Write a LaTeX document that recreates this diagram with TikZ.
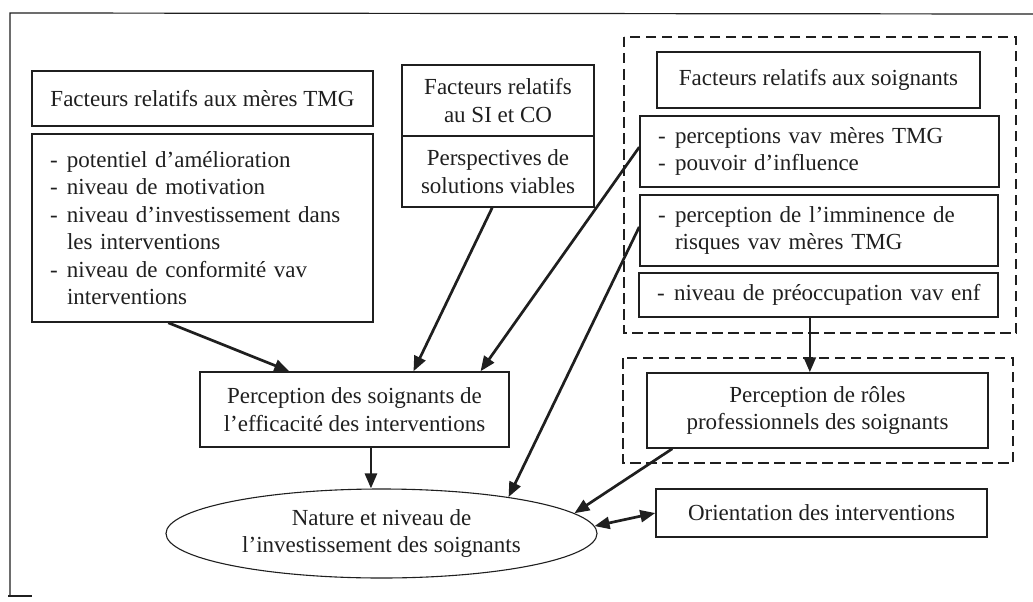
\documentclass[tikz,border=0pt]{standalone}
\usepackage{fontspec}
\setmainfont{Liberation Serif}
\usetikzlibrary{shapes.geometric,arrows.meta,calc}
\definecolor{ink}{gray}{0.12}
\begin{document}
\begin{tikzpicture}[x=1pt,y=-1pt,
  every node/.style={font=\fontsize{23}{27.5}\selectfont, text=ink},
  box/.style={draw=ink, line width=1.5pt, inner sep=0pt, align=center},
  listbox/.style={draw=ink, line width=1.5pt, inner xsep=18pt, inner ysep=0pt, align=left},
  tip/.tip={Triangle[length=15pt,width=12pt]},
  arr/.style={draw=ink, line width=2.7pt, -tip},
  biarr/.style={draw=ink, line width=2.7pt, tip-tip},
  group/.style={draw=ink, line width=2.6pt, dash pattern=on 10.5pt off 5.5pt},
  frame/.style={draw=ink, line width=1.2pt},
]
\useasboundingbox (0,0) rectangle (1033,602);
\newcommand{\dashitem}{\makebox[17pt][l]{-}}
\newcommand{\contitem}{\hspace*{17pt}}

% outer frame (left and top edges)
\draw[frame] (10,596) -- (10,13) -- (1033,14);
\draw[frame] (8,596) -- (32,596);

% group frames around the caregiver factors and the role perception
\draw[group] (624,37) rectangle (1016,333);
\draw[group] (623,358) rectangle (1013,463);

% factors related to the mothers
\node[box, minimum width=341pt, minimum height=55pt] (A) at (202.5,98.5)
  {Facteurs relatifs aux mères TMG};
\node[listbox, text width=305pt, minimum height=188pt] (B) at (202.5,228)
  {\dashitem\mbox{potentiel d’amélioration}\\
   \dashitem\mbox{niveau de motivation}\\
   \dashitem\mbox{niveau d’investissement dans}\\
   \contitem\mbox{les interventions}\\
   \dashitem\mbox{niveau de conformité vav}\\
   \contitem\mbox{interventions}};

% factors related to SI and CO
\node[box, minimum width=192pt, minimum height=71pt] (C1) at (498,100.5)
  {Facteurs relatifs\\au SI et CO};
\node[box, minimum width=192pt, minimum height=71pt] (C2) at (498,171.5)
  {Perspectives de\\solutions viables};

% factors related to the caregivers
\node[box, minimum width=323pt, minimum height=56pt] (D) at (818.5,80)
  {Facteurs relatifs aux soignants};
\node[listbox, text width=323pt, minimum height=71pt] (E) at (819.5,151.5)
  {\dashitem\mbox{perceptions vav mères TMG}\\
   \dashitem\mbox{pouvoir d’influence}};
\node[listbox, text width=322pt, minimum height=71pt] (F) at (819,230.5)
  {\dashitem\mbox{perception de l’imminence de}\\
   \contitem\mbox{risques vav mères TMG}};
\node[listbox, text width=323pt, minimum height=44pt] (G) at (818.5,295)
  {\dashitem\mbox{niveau de préoccupation vav enf}};

% perceptions and outcome
\node[box, minimum width=341pt, minimum height=75pt] (H) at (817.5,410.5)
  {Perception de rôles\\professionnels des soignants};
\node[box, minimum width=309pt, minimum height=75pt] (J) at (354.5,409.5)
  {Perception des soignants de\\l’efficacité des interventions};
\node[box, minimum width=331pt, minimum height=48pt] (I) at (821.5,513)
  {Orientation des interventions};
\node[ellipse, draw=ink, line width=1.1pt, inner sep=0pt, align=center,
      minimum width=431pt, minimum height=89pt] (Ell) at (381.5,533.5)
  {Nature et niveau de\\l’investissement des soignants};

% influences
\draw[arr] ($(B.south west)!0.40!(B.south east)$) -- ($(J.north west)!0.29!(J.north east)$);
\draw[arr] ($(C2.south west)!0.47!(C2.south east)$) -- ($(J.north west)!0.69!(J.north east)$);
\draw[arr] ($(E.north west)!0.44!(E.south west)$) -- ($(J.north west)!0.906!(J.north east)$);
\draw[arr] ($(F.north west)!0.45!(F.south west)$) -- (Ell.16);
\coordinate (j5) at ($(J.south west)!0.553!(J.south east)$);
\draw[arr] (j5) -- (j5 |- Ell.north);
\coordinate (g6) at ($(G.south west)!0.476!(G.south east)$);
\draw[arr] (g6) -- (g6 |- H.north);
\draw[arr] ($(H.south west)!0.076!(H.south east)$) -- (Ell.6);
\draw[biarr] (Ell.2) -- (I.west);
\end{tikzpicture}
\end{document}
